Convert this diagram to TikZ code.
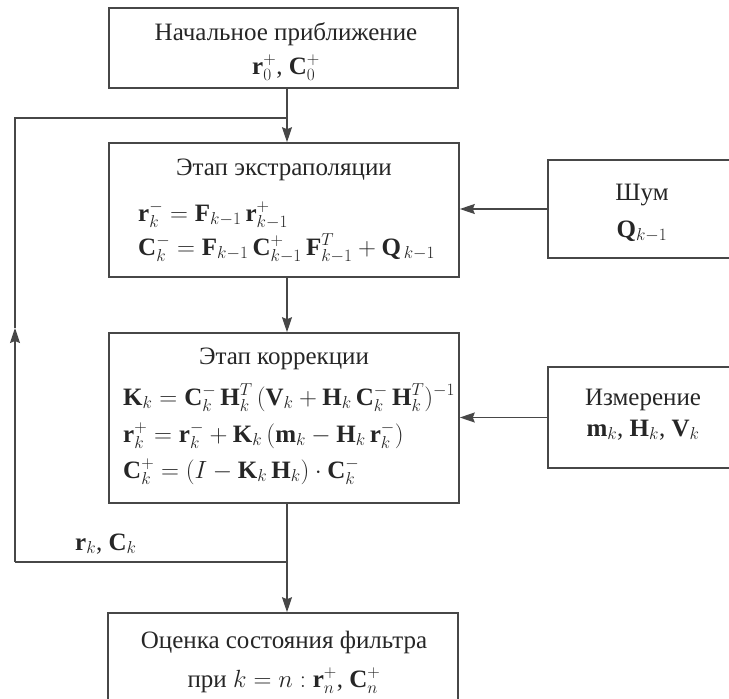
\documentclass[tikz,border=0pt]{standalone}
\usepackage{fontspec}
\setmainfont{Liberation Serif}
\usetikzlibrary{arrows.meta}
\begin{document}
\begin{tikzpicture}[x=1pt,y=-1pt,
  box/.style={draw=black!72,line width=1.6pt,inner sep=0pt},
  txt/.style={inner sep=0pt,text=black!85,font=\fontsize{25}{30}\selectfont},
  conn/.style={draw=black!72,line width=1.4pt},
  arr/.style={conn,-{Stealth[length=15pt,width=10pt,inset=2pt]}}]
\useasboundingbox (0,0) rectangle (729,699);
% boxes
\node[box,minimum width=349pt,minimum height=80pt] (b1) at (283.5,48) {};
\node[box,minimum width=350pt,minimum height=134pt] (b2) at (284,210) {};
\node[box,minimum width=350pt,minimum height=170pt] (b3) at (284,418) {};
\node[box,minimum width=350pt,minimum height=107pt] (b4) at (283,666.5) {};
\node[box,minimum width=192pt,minimum height=98pt] (noise) at (644,209) {};
\node[box,minimum width=192pt,minimum height=101pt] (meas) at (644,417.5) {};
% texts
\node[txt,anchor=base] (t1a) at (286,40) {Начальное приближение};
\node[txt,anchor=base] (t1b) at (286,74) {$\mathbf{r}_0^+$, $\mathbf{C}_0^+$};
\node[txt,anchor=base] (t2a) at (284,175) {Этап экстраполяции};
\node[txt,anchor=base west] (t2b) at (138,221) {$\mathbf{r}_k^- = \mathbf{F}_{k-1}\,\mathbf{r}_{k-1}^+$};
\node[txt,anchor=base west] (t2c) at (138,255) {$\mathbf{C}_k^- = \mathbf{F}_{k-1}\,\mathbf{C}_{k-1}^+\,\mathbf{F}_{k-1}^T + \mathbf{Q}_{\,k-1}$};
\node[txt,anchor=base] (t3a) at (284,364) {Этап коррекции};
\node[txt,anchor=base west] (t3b) at (123,405) {$\mathbf{K}_k = \mathbf{C}_k^-\,\mathbf{H}_k^T\,(\mathbf{V}_k + \mathbf{H}_k\,\mathbf{C}_k^-\,\mathbf{H}_k^T)^{-1}$};
\node[txt,anchor=base west] (t3c) at (123,442) {$\mathbf{r}_k^+ = \mathbf{r}_k^- + \mathbf{K}_k\,(\mathbf{m}_k - \mathbf{H}_k\,\mathbf{r}_k^-)$};
\node[txt,anchor=base west] (t3d) at (123,478) {$\mathbf{C}_k^+ = (I - \mathbf{K}_k\,\mathbf{H}_k)\cdot\mathbf{C}_k^-$};
\node[txt,anchor=base] (tna) at (642,200) {Шум};
\node[txt,anchor=base] (tnb) at (642,237) {$\mathbf{Q}_{k-1}$};
\node[txt,anchor=base] (tma) at (643,405) {Измерение};
\node[txt,anchor=base] (tmb) at (643,436) {$\mathbf{m}_k$, $\mathbf{H}_k$, $\mathbf{V}_k$};
\node[txt,anchor=base] (t4a) at (284,648) {Оценка состояния фильтра};
\node[txt,anchor=base] (t4b) at (284,687) {при $k = n : \mathbf{r}_n^+$, $\mathbf{C}_n^+$};
\node[txt,anchor=base west] (lbl) at (75,550) {$\mathbf{r}_k$, $\mathbf{C}_k$};
% connectors
\coordinate (m) at (287,118);
\coordinate (j) at (287,562);
\coordinate (lt) at (15,118);
\coordinate (la) at (15,328);
\coordinate (lb) at (15,562);
\draw[arr] ([xshift=3.5pt]b1.south) -- ([xshift=3pt]b2.north);
\draw[arr] ([xshift=3pt]b2.south) -- ([xshift=3pt]b3.north);
\draw[arr] ([xshift=3pt]b3.south) -- ([xshift=4pt]b4.north);
\draw[conn] (j) -- (lb);
\draw[arr] (lb) -- (la);
\draw[conn] (la) -- (lt) -- (m);
\draw[arr] (noise.west) -- (noise.west -| b2.east);
\draw[arr] (meas.west) -- (meas.west -| b3.east);
\end{tikzpicture}
\end{document}
